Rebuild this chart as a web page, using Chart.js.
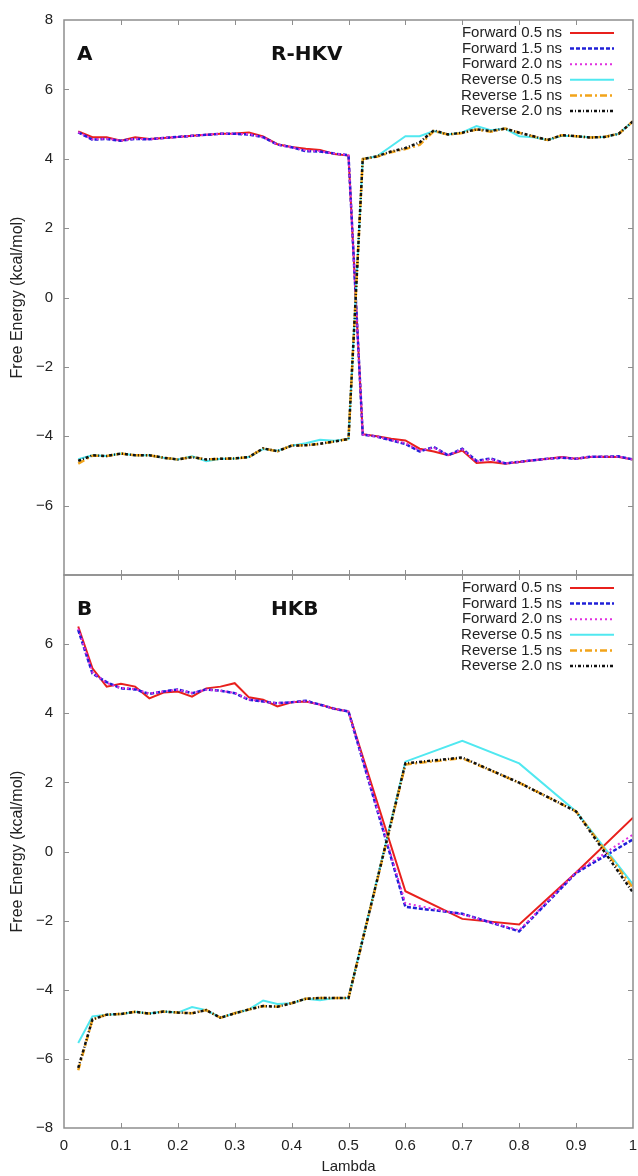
<!DOCTYPE html>
<html>
<head>
<meta charset="utf-8">
<script src="https://cdn.jsdelivr.net/npm/chart.js@4.4.0/dist/chart.umd.min.js"></script>
<style>
  body { margin: 0; background: #fff; }
  #wrap { position: relative; width: 638px; height: 1176px; overflow: hidden; }
  canvas { position: absolute; left: 0; }
  #panelA { top: 0; }
  #panelB { top: 550px; }
</style>
</head>
<body>
<div id="wrap">
  <canvas id="panelA" width="638" height="600"></canvas>
  <canvas id="panelB" width="638" height="626"></canvas>
</div>
<script>
// lambda windows
const lambdaA = [0.025, 0.05, 0.075, 0.1, 0.125, 0.15, 0.175, 0.2, 0.225, 0.25,
  0.275, 0.3, 0.325, 0.35, 0.375, 0.4, 0.425, 0.45, 0.475, 0.5,
  0.525, 0.55, 0.575, 0.6, 0.625, 0.65, 0.675, 0.7, 0.725, 0.75,
  0.775, 0.8, 0.825, 0.85, 0.875, 0.9, 0.925, 0.95, 0.975, 1.0];
const lambdaB = [0.025, 0.05, 0.075, 0.1, 0.125, 0.15, 0.175, 0.2, 0.225, 0.25,
  0.275, 0.3, 0.325, 0.35, 0.375, 0.4, 0.425, 0.45, 0.475, 0.5,
  0.6, 0.7, 0.8, 0.9, 1.0];

// R-HKV free energies (kcal/mol)
const fwd05A = [4.79, 4.62, 4.62, 4.52, 4.62, 4.57, 4.60, 4.63, 4.66, 4.69, 4.72, 4.73, 4.76, 4.64, 4.42, 4.34, 4.29, 4.25, 4.14, 4.09,
  -3.94, -4.00, -4.07, -4.12, -4.36, -4.44, -4.55, -4.41, -4.77, -4.74, -4.79, -4.74, -4.69, -4.65, -4.60, -4.65, -4.60, -4.59, -4.60, -4.67];
const fwd15A = [4.76, 4.55, 4.57, 4.52, 4.57, 4.56, 4.60, 4.63, 4.66, 4.69, 4.72, 4.72, 4.70, 4.62, 4.41, 4.33, 4.22, 4.21, 4.15, 4.10,
  -3.95, -4.01, -4.12, -4.22, -4.44, -4.31, -4.55, -4.36, -4.71, -4.64, -4.78, -4.74, -4.69, -4.65, -4.62, -4.65, -4.59, -4.59, -4.58, -4.67];
const fwd20A = [4.77, 4.56, 4.58, 4.52, 4.58, 4.56, 4.60, 4.63, 4.66, 4.69, 4.72, 4.72, 4.71, 4.62, 4.41, 4.33, 4.24, 4.22, 4.15, 4.10,
  -3.95, -4.01, -4.11, -4.20, -4.42, -4.33, -4.54, -4.38, -4.73, -4.66, -4.78, -4.74, -4.69, -4.65, -4.61, -4.65, -4.59, -4.59, -4.59, -4.67];
const rev05A = [-4.66, -4.55, -4.57, -4.50, -4.55, -4.55, -4.62, -4.67, -4.58, -4.72, -4.65, -4.64, -4.60, -4.37, -4.42, -4.27, -4.20, -4.10, -4.13, -4.08,
  3.99, 4.07, 4.36, 4.65, 4.65, 4.80, 4.70, 4.76, 4.94, 4.82, 4.87, 4.65, 4.62, 4.54, 4.66, 4.65, 4.62, 4.63, 4.72, 5.08];
const rev15A = [-4.79, -4.56, -4.57, -4.50, -4.55, -4.55, -4.62, -4.67, -4.60, -4.67, -4.65, -4.64, -4.60, -4.35, -4.44, -4.27, -4.26, -4.22, -4.15, -4.08,
  3.99, 4.06, 4.19, 4.28, 4.40, 4.80, 4.70, 4.74, 4.84, 4.78, 4.87, 4.75, 4.64, 4.54, 4.68, 4.65, 4.61, 4.63, 4.72, 5.08];
const rev20A = [-4.71, -4.55, -4.57, -4.50, -4.55, -4.55, -4.62, -4.67, -4.60, -4.67, -4.65, -4.64, -4.60, -4.35, -4.43, -4.27, -4.26, -4.22, -4.15, -4.08,
  3.99, 4.07, 4.21, 4.31, 4.47, 4.82, 4.70, 4.75, 4.85, 4.80, 4.87, 4.75, 4.65, 4.54, 4.68, 4.65, 4.61, 4.63, 4.72, 5.08];

// HKB free energies (kcal/mol)
const fwd05B = [6.51, 5.30, 4.77, 4.85, 4.77, 4.43, 4.60, 4.63, 4.48, 4.72, 4.77, 4.87, 4.46, 4.39, 4.20, 4.32, 4.34, 4.25, 4.13, 4.05,
  -1.15, -1.95, -2.11, -0.61, 0.98];
const fwd15B = [6.41, 5.15, 4.90, 4.72, 4.69, 4.56, 4.63, 4.69, 4.58, 4.69, 4.65, 4.58, 4.39, 4.34, 4.29, 4.32, 4.36, 4.25, 4.13, 4.05,
  -1.60, -1.80, -2.31, -0.62, 0.35];
const fwd20B = [6.45, 5.18, 4.88, 4.73, 4.70, 4.57, 4.63, 4.68, 4.59, 4.68, 4.65, 4.59, 4.40, 4.34, 4.29, 4.32, 4.35, 4.25, 4.13, 4.05,
  -1.50, -1.82, -2.28, -0.60, 0.49];
const rev05B = [-5.54, -4.77, -4.72, -4.70, -4.64, -4.69, -4.63, -4.66, -4.50, -4.59, -4.81, -4.68, -4.57, -4.31, -4.41, -4.39, -4.26, -4.30, -4.24, -4.24,
  2.60, 3.20, 2.55, 1.16, -0.95];
const rev15B = [-6.33, -4.86, -4.72, -4.70, -4.64, -4.69, -4.63, -4.66, -4.68, -4.59, -4.81, -4.68, -4.57, -4.47, -4.49, -4.39, -4.26, -4.24, -4.24, -4.24,
  2.52, 2.70, 1.99, 1.16, -1.05];
const rev20B = [-6.26, -4.86, -4.72, -4.70, -4.64, -4.69, -4.63, -4.66, -4.68, -4.59, -4.81, -4.68, -4.57, -4.47, -4.49, -4.39, -4.26, -4.24, -4.24, -4.24,
  2.55, 2.72, 1.99, 1.16, -1.19];

const seriesNames = ["Forward 0.5 ns", "Forward 1.5 ns", "Forward 2.0 ns",
  "Reverse 0.5 ns", "Reverse 1.5 ns", "Reverse 2.0 ns"];
const seriesColors = ["#e8201c", "#2020d8", "#e030e0", "#50e8f0", "#f2a41a", "#111111"];
const seriesDashes = [[], [4, 2], [2, 3], [], [7, 3, 2, 3], [3, 2, 1, 2]];
const seriesWidths = [2, 2.5, 2, 2, 2.5, 2.5];

const xTickMarks = [0.1, 0.2, 0.3, 0.4, 0.5, 0.6, 0.7, 0.8, 0.9];
const yTickMarks = [-6, -4, -2, 0, 2, 4, 6];

Chart.defaults.font.family = "'Liberation Sans', Arial, sans-serif";
Chart.defaults.color = "#222";

function makeDatasets(lambda, series) {
  return series.map((vals, i) => ({
    label: seriesNames[i],
    data: lambda.map((x, j) => ({ x: x, y: vals[j] })),
    borderColor: seriesColors[i],
    borderDash: seriesDashes[i],
    borderWidth: seriesWidths[i],
    pointRadius: 0,
    tension: 0,
    fill: false,
    order: 6 - i
  }));
}

function fmtY(v) {
  return v < 0 ? "\u2212" + Math.abs(v) : String(v);
}

// box, inward ticks, panel tag and legend
const framePlugin = {
  id: "frame",
  afterDatasetsDraw(chart, args, opts) {
    const { ctx, chartArea: a, scales } = chart;
    const x = scales.x, y = scales.y;
    ctx.save();
    ctx.strokeStyle = "#8e8e8e";
    ctx.lineWidth = 1.5;
    ctx.setLineDash([]);
    ctx.strokeRect(a.left, a.top, a.right - a.left, a.bottom - a.top);
    ctx.beginPath();
    xTickMarks.forEach(v => {
      const px = Math.round(x.getPixelForValue(v)) + 0.5;
      ctx.moveTo(px, a.top); ctx.lineTo(px, a.top + 5);
      ctx.moveTo(px, a.bottom); ctx.lineTo(px, a.bottom - 5);
    });
    yTickMarks.forEach(v => {
      const py = Math.round(y.getPixelForValue(v)) + 0.5;
      ctx.moveTo(a.left, py); ctx.lineTo(a.left + 5, py);
      ctx.moveTo(a.right, py); ctx.lineTo(a.right - 5, py);
    });
    ctx.lineWidth = 1;
    ctx.stroke();

    ctx.fillStyle = "#111";
    ctx.font = "bold 20px 'DejaVu Sans'";
    ctx.textAlign = "left";
    ctx.textBaseline = "alphabetic";
    ctx.fillText(opts.tag, a.left + 13, a.top + 40);
    ctx.fillText(opts.name, a.left + 207, a.top + 40);

    ctx.font = "15px 'Liberation Sans', Arial, sans-serif";
    ctx.textAlign = "right";
    ctx.textBaseline = "middle";
    chart.data.datasets.forEach((ds, i) => {
      const ry = a.top + 13 + i * 15.6;
      ctx.fillStyle = "#222";
      ctx.fillText(ds.label, a.right - 71, ry);
      ctx.beginPath();
      ctx.strokeStyle = ds.borderColor;
      ctx.lineWidth = ds.borderWidth;
      ctx.setLineDash(ds.borderDash);
      ctx.moveTo(a.right - 63, ry);
      ctx.lineTo(a.right - 19, ry);
      ctx.stroke();
    });
    ctx.restore();
  }
};

function yAxis(hide) {
  return {
    min: -8, max: 8,
    afterFit(s) { s.width = 64; },
    grid: { display: false, drawTicks: false },
    border: { display: false },
    ticks: {
      stepSize: 2, padding: 11, font: { size: 15 }, color: "#222",
      callback: v => (v === hide ? "" : fmtY(v))
    },
    title: {
      display: true, text: "Free Energy (kcal/mol)",
      font: { size: 16 }, color: "#222", padding: { top: 8 }
    }
  };
}

new Chart(document.getElementById("panelA"), {
  type: "line",
  data: { datasets: makeDatasets(lambdaA, [fwd05A, fwd15A, fwd20A, rev05A, rev15A, rev20A]) },
  options: {
    responsive: false,
    animation: false,
    events: [],
    layout: { padding: { top: 20, right: 5, bottom: 25, left: 0 } },
    plugins: { legend: { display: false }, tooltip: { enabled: false }, frame: { tag: "A", name: "R-HKV" } },
    scales: {
      x: { type: "linear", min: 0, max: 1, display: false },
      y: yAxis(-8)
    }
  },
  plugins: [framePlugin]
});

new Chart(document.getElementById("panelB"), {
  type: "line",
  data: { datasets: makeDatasets(lambdaB, [fwd05B, fwd15B, fwd20B, rev05B, rev15B, rev20B]) },
  options: {
    responsive: false,
    animation: false,
    events: [],
    layout: { padding: { top: 25, right: 5, bottom: 0, left: 0 } },
    plugins: { legend: { display: false }, tooltip: { enabled: false }, frame: { tag: "B", name: "HKB" } },
    scales: {
      x: {
        type: "linear", min: 0, max: 1,
        afterFit(s) {
          s.height = 48;
          // let the "1" label hang over the right edge
          s.paddingLeft = 0;
          s.paddingRight = 0;
        },
        grid: { display: false, drawTicks: false },
        border: { display: false },
        ticks: {
          stepSize: 0.1, autoSkip: false, maxRotation: 0, padding: 9,
          font: { size: 15 }, color: "#222",
          callback: v => (v === 0 ? "0" : v === 1 ? "1" : v.toFixed(1))
        },
        title: { display: true, text: "Lambda", font: { size: 15 }, color: "#222", padding: 0 }
      },
      y: yAxis(8)
    }
  },
  plugins: [framePlugin]
});
</script>
</body>
</html>
